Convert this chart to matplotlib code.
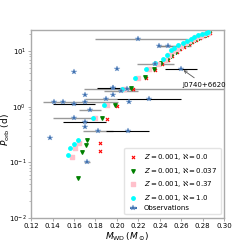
import matplotlib
matplotlib.use('Agg')
import matplotlib.pyplot as plt

# model tracks: Z = 0.001 with different aleph values
cyan_m = [0.1542, 0.1567, 0.1601, 0.1635, 0.178, 0.1884, 0.2052, 0.2165, 0.2272, 0.2353,
          0.2428, 0.2466, 0.2506, 0.2537, 0.2574, 0.2621, 0.2652, 0.269, 0.272, 0.2761,
          0.2792, 0.283, 0.2854]
cyan_p = [0.136, 0.177, 0.212, 0.247, 0.62, 1.05, 2.11, 3.33, 4.70, 6.0,
          7.23, 8.65, 10.3, 11.4, 12.6, 14.0, 15.3, 16.6, 18.0, 19.3,
          20.4, 21.3, 21.6]

pink_m = [0.158, 0.1613, 0.165, 0.1795, 0.191, 0.207, 0.2195, 0.2303, 0.2385,
          0.2448, 0.2488, 0.2528, 0.256, 0.2597, 0.2644, 0.2675, 0.2712, 0.2742, 0.2782,
          0.2812, 0.2848]
pink_p = [0.124, 0.177, 0.222, 0.62, 1.05, 2.08, 3.33, 4.70, 5.95,
          7.0, 8.4, 10.0, 11.1, 12.3, 13.7, 15.0, 16.3, 17.6, 18.9,
          20.0, 20.9]

green_m = [0.1635, 0.167, 0.171, 0.1725, 0.1865, 0.1984, 0.2136, 0.2262, 0.2345, 0.241,
           0.2468, 0.2508, 0.2548, 0.258, 0.2617, 0.2664, 0.2695, 0.2732, 0.2762, 0.2802,
           0.2832, 0.2862]
green_p = [0.052, 0.154, 0.207, 0.251, 0.62, 1.08, 2.13, 3.36, 4.75, 6.05,
           6.9, 8.2, 9.8, 10.9, 12.1, 13.5, 14.8, 16.1, 17.4, 18.7,
           19.8, 20.7]

red_m = [0.184, 0.184, 0.191, 0.2005, 0.2148, 0.2275, 0.2355, 0.2418,
         0.2478, 0.2518, 0.2558, 0.259, 0.2627, 0.2674, 0.2705, 0.2742, 0.2772, 0.2812,
         0.2842, 0.287]
red_p = [0.161, 0.224, 0.60, 1.03, 2.05, 3.25, 4.6, 5.9,
         6.8, 8.0, 9.6, 10.7, 11.9, 13.3, 14.6, 15.9, 17.2, 18.5,
         19.6, 20.7]

# observations (gray error bars)
obs_m = [0.220, 0.239, 0.248, 0.236, 0.200, 0.160, 0.196, 0.2096, 0.204, 0.170, 0.1968,
         0.190, 0.1415, 0.150, 0.170, 0.175, 0.160, 0.170, 0.182, 0.138, 0.172, 0.2114]
obs_p = [16.3, 12.4, 12.4, 5.95, 4.84, 4.15, 2.2, 2.05, 1.89, 1.6, 1.64,
         1.39, 1.2, 1.21, 1.2, 0.86, 0.616, 0.43, 0.36, 0.268, 0.103, 1.21]
obs_lo = [0.040, 0.002, 0.010, 0.017, 0.0, 0.0, 0.0, 0.040, 0.016, 0.0, 0.0,
          0.020, 0.0, 0.0, 0.039, 0.010, 0.020, 0.0, 0.014, 0.0, 0.003, 0.0]
obs_hi = [0.045, 0.030, 0.010, 0.017, 0.0, 0.0, 0.0, 0.110, 0.016, 0.0, 0.0,
          0.010, 0.0, 0.0, 0.031, 0.010, 0.020, 0.0, 0.014, 0.0, 0.003, 0.0]

# observations (black error bars)
obs2_m = [0.260, 0.196, 0.230, 0.160, 0.170, 0.210]
obs2_p = [4.84, 2.2, 1.39, 1.13, 0.52, 0.36]
obs2_err = [0.015, 0.015, 0.030, 0.020, 0.020, 0.020]

fig = plt.figure(figsize=(2.49, 2.49), dpi=100)
ax = fig.add_axes([0.125, 0.125, 0.775, 0.755])

ax.errorbar(obs_m, obs_p, xerr=[obs_lo, obs_hi], fmt='none', ecolor='gray', elinewidth=1.0, alpha=0.8)
ax.errorbar(obs2_m, obs2_p, xerr=obs2_err, fmt='none', ecolor='black', elinewidth=0.8)

ax.scatter(red_m, red_p, marker='x', color='red', s=5, lw=0.8, label=r'$Z=0.001$, $\aleph=0.0$', zorder=3)
ax.scatter(green_m, green_p, marker='v', color='green', s=6, label=r'$Z=0.001$, $\aleph=0.037$', zorder=3)
ax.scatter(pink_m, pink_p, marker='s', color='pink', s=6, label=r'$Z=0.001$, $\aleph=0.37$', zorder=3)
ax.scatter(cyan_m, cyan_p, marker='o', color='cyan', s=6, label=r'$Z=0.001$, $\aleph=1.0$', zorder=3)

ax.errorbar(obs_m + obs2_m, obs_p + obs2_p, fmt='*', color='#3e6fae', ms=4, mec='#7aa0d0', mew=0.3,
            xerr=0.0, ecolor='#3e6fae', label='Observations', zorder=4)

ax.annotate('J0740+6620', xy=(0.260, 4.84), xytext=(0.2615, 2.15), fontsize=5,
            va='bottom', arrowprops=dict(arrowstyle='->', color='#555555', lw=0.6))

ax.set_yscale('log')
ax.set_xlim(0.12, 0.30)
ax.set_ylim(0.01, 24)
ax.set_xticks([0.12, 0.14, 0.16, 0.18, 0.20, 0.22, 0.24, 0.26, 0.28, 0.30])
ax.tick_params(labelsize=5, length=2, width=0.5, pad=1.5, color='#888888')
ax.tick_params(which='minor', length=1.2, width=0.4, color='#888888')
for s in ax.spines.values():
    s.set_color('#aaaaaa')
    s.set_linewidth(1.0)
ax.set_xlabel(r'$M_{\rm WD}\,(M_\odot)$', fontsize=6.5, labelpad=1)
ax.set_ylabel(r'$P_{\rm orb}$ (d)', fontsize=6.5)
ax.yaxis.set_label_coords(-0.1, 0.47)
ax.legend(loc='lower right', fontsize=5, markerscale=1.0, handlelength=1.5,
          borderpad=0.5, labelspacing=0.35, framealpha=0.8, edgecolor='#dddddd')

plt.savefig('out.png', dpi=100)
